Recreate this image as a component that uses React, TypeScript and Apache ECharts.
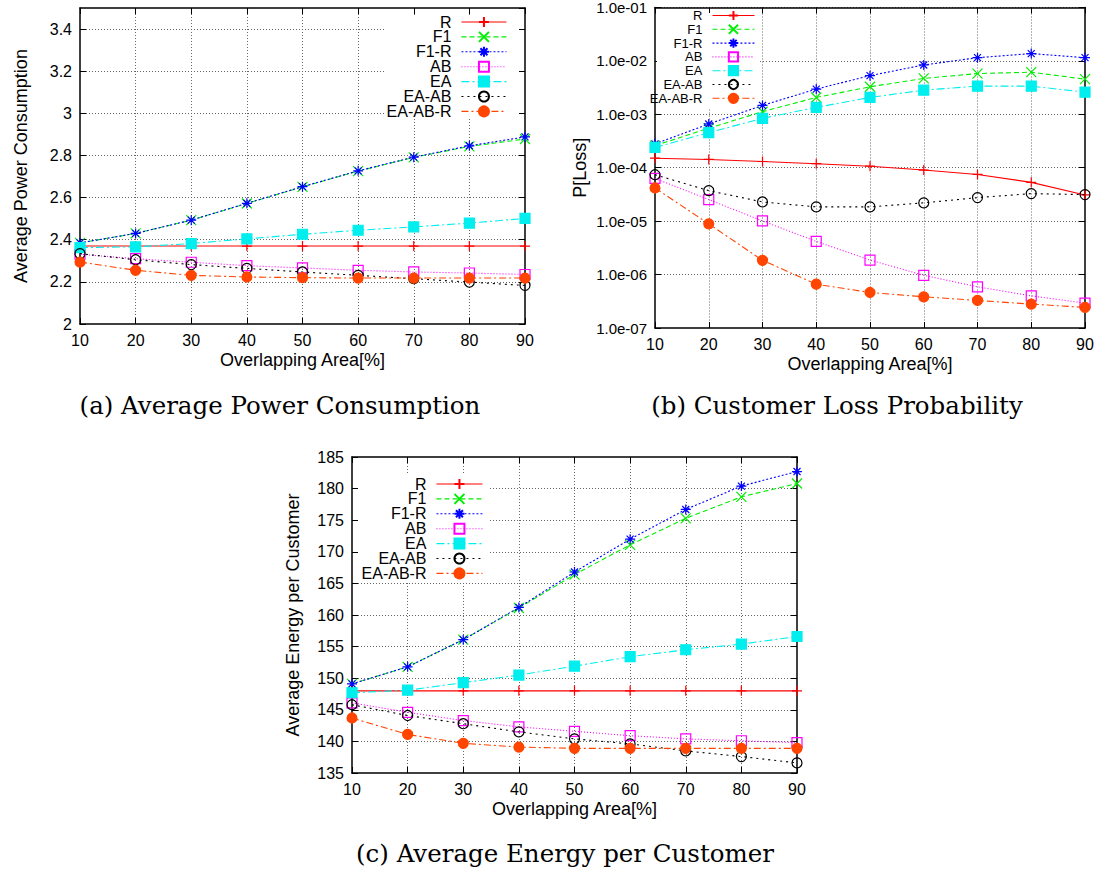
import React, { useEffect, useRef } from "react";
import * as echarts from "echarts";

// ---------- data ----------
const xValues = [10, 20, 30, 40, 50, 60, 70, 80, 90];
const seriesNames = ["R", "F1", "F1-R", "AB", "EA", "EA-AB", "EA-AB-R"];

// (a) Average Power Consumption
const powerR = [2.37, 2.37, 2.37, 2.37, 2.37, 2.37, 2.37, 2.37, 2.37];
const powerF1 = [2.385, 2.43, 2.493, 2.572, 2.651, 2.726, 2.791, 2.843, 2.878];
const powerF1R = [2.385, 2.43, 2.493, 2.573, 2.652, 2.727, 2.792, 2.846, 2.888];
const powerAB = [2.331, 2.31, 2.293, 2.277, 2.266, 2.255, 2.247, 2.242, 2.235];
const powerEA = [2.363, 2.366, 2.382, 2.404, 2.426, 2.445, 2.461, 2.479, 2.501];
const powerEAAB = [2.334, 2.305, 2.282, 2.264, 2.247, 2.231, 2.215, 2.199, 2.183];
const powerEAABR = [2.294, 2.255, 2.231, 2.223, 2.22, 2.218, 2.218, 2.218, 2.218];

// (b) Customer Loss Probability
const lossR = [1.51e-4, 1.43e-4, 1.31e-4, 1.19e-4, 1.07e-4, 9.05e-5, 7.5e-5, 5.33e-5, 3.1e-5];
const lossF1 = [2.6e-4, 5.5e-4, 1.12e-3, 2.07e-3, 3.28e-3, 4.7e-3, 5.8e-3, 6.15e-3, 4.55e-3];
const lossF1R = [2.8e-4, 6.6e-4, 1.47e-3, 2.97e-3, 5.3e-3, 8.4e-3, 1.15e-2, 1.37e-2, 1.15e-2];
const lossAB = [6.3e-5, 2.54e-5, 1.01e-5, 4.18e-6, 1.87e-6, 9.7e-7, 5.9e-7, 4.0e-7, 2.92e-7];
const lossEA = [2.4e-4, 4.55e-4, 8.4e-4, 1.35e-3, 2.07e-3, 2.84e-3, 3.37e-3, 3.37e-3, 2.6e-3];
const lossEAAB = [7.4e-5, 3.73e-5, 2.29e-5, 1.85e-5, 1.85e-5, 2.2e-5, 2.76e-5, 3.28e-5, 3.14e-5];
const lossEAABR = [4.18e-5, 8.9e-6, 1.85e-6, 6.6e-7, 4.62e-7, 3.84e-7, 3.28e-7, 2.8e-7, 2.43e-7];

// (c) Average Energy per Customer
const energyR = [148, 148, 148, 148, 148, 148, 148, 148, 148];
const energyF1 = [149.1, 151.8, 156.1, 161.1, 166.4, 171.1, 175.3, 178.7, 180.8];
const energyF1R = [149.1, 151.8, 156.1, 161.2, 166.8, 172.0, 176.7, 180.4, 182.7];
const energyAB = [146.1, 144.6, 143.3, 142.3, 141.6, 140.9, 140.4, 140.1, 139.8];
const energyEA = [147.7, 148.1, 149.3, 150.5, 151.9, 153.4, 154.5, 155.4, 156.6];
const energyEAAB = [145.8, 144.1, 142.8, 141.5, 140.4, 139.6, 138.5, 137.6, 136.6];
const energyEAABR = [143.7, 141.1, 139.7, 139.1, 138.9, 138.9, 138.9, 138.9, 138.9];

const powerData = [powerR, powerF1, powerF1R, powerAB, powerEA, powerEAAB, powerEAABR];
const lossData = [lossR, lossF1, lossF1R, lossAB, lossEA, lossEAAB, lossEAABR];
const energyData = [energyR, energyF1, energyF1R, energyAB, energyEA, energyEAAB, energyEAABR];

const xTitle = "Overlapping Area[%]";
const yTitles = ["Average Power Consumption", "P[Loss]", "Average Energy per Customer"];
const captions = [
  "(a) Average Power Consumption",
  "(b) Customer Loss Probability",
  "(c) Average Energy per Customer",
];

// ---------- styles ----------
const SANS = "Liberation Sans, Arial, Helvetica, sans-serif";
const SERIF = "DejaVu Serif, serif";
const PLUS = "path://M0,5L10,5M5,0L5,10";
const CROSS = "path://M0,0L10,10M10,0L0,10";
const STAR = "path://M0,5L10,5M5,0L5,10M1.5,1.5L8.5,8.5M8.5,1.5L1.5,8.5";

const styles = [
  { color: "#ff0000", dash: "solid", symbol: PLUS, fill: "#ff0000" },
  { color: "#00ee00", dash: [5, 3], symbol: CROSS, fill: "#00ee00" },
  { color: "#0000ff", dash: [2, 2], symbol: STAR, fill: "#0000ff" },
  { color: "#ff00ff", dash: [1, 2], symbol: "rect", fill: "rgba(0,0,0,0)" },
  { color: "#00eeee", dash: [8, 3, 2, 3], symbol: "rect", fill: "#00eeee" },
  { color: "#000000", dash: [2, 4], symbol: "circle", fill: "rgba(0,0,0,0)" },
  { color: "#ff4500", dash: [7, 3, 2, 3], symbol: "circle", fill: "#ff4500" },
];

const grids = [
  { left: 80, top: 8, width: 445, height: 316 },
  { left: 655, top: 7, width: 430, height: 321 },
  { left: 352, top: 457, width: 445, height: 316 },
];

function expLabel(v: number) {
  const e = Math.round(Math.log10(v));
  const sign = e < 0 ? "-" : "+";
  return "1.0e" + sign + String(Math.abs(e)).padStart(2, "0");
}

function makeX(gridIndex: number, top: boolean) {
  return {
    gridIndex,
    type: "value",
    position: top ? "top" : "bottom",
    min: 10,
    max: 90,
    interval: 10,
    axisLine: { show: true, onZero: false, lineStyle: { color: "#000", width: 1.5 } },
    axisTick: { show: true, inside: true, length: 6, lineStyle: { color: "#000", width: 1 } },
    axisLabel: top
      ? { show: false }
      : { show: true, color: "#000", fontSize: 16, fontFamily: SANS, margin: 8 },
    splitLine: top
      ? { show: false }
      : {
          show: true,
          showMinLine: false,
          showMaxLine: false,
          lineStyle: { type: [1, 2], color: "#666", width: 1 },
        },
    name: top ? "" : xTitle,
    nameLocation: "middle",
    nameGap: 27,
    nameTextStyle: { fontSize: 18, color: "#000", fontFamily: SANS },
  };
}

function makeY(gridIndex: number, right: boolean, cfg: any, name: string, nameGap: number) {
  return {
    gridIndex,
    position: right ? "right" : "left",
    ...cfg,
    axisLine: { show: true, onZero: false, lineStyle: { color: "#000", width: 1.5 } },
    axisTick: { show: true, inside: true, length: 6, lineStyle: { color: "#000", width: 1 } },
    axisLabel: right
      ? { show: false }
      : {
          show: true,
          color: "#000",
          fontSize: 16,
          fontFamily: SANS,
          margin: 8,
          showMaxLabel: cfg.type === "log" ? true : cfg.max === 185,
          ...(cfg.type === "log" ? { formatter: expLabel, fontSize: 15 } : {}),
        },
    splitLine: right
      ? { show: false }
      : {
          show: true,
          showMinLine: false,
          showMaxLine: false,
          lineStyle: { type: [1, 2], color: "#666", width: 1 },
        },
    name: right ? "" : name,
    nameLocation: "middle",
    nameGap,
    nameTextStyle: { fontSize: 18, color: "#000", fontFamily: SANS },
  };
}

function makeSeries(chart: number, data: number[][], symbolSize: number) {
  return seriesNames.map((name, i) => {
    const st = styles[i];
    return {
      name,
      type: "line",
      xAxisIndex: chart * 2,
      yAxisIndex: chart * 2,
      data: xValues.map((x, k) => [x, data[i][k]]),
      symbol: st.symbol,
      symbolSize,
      clip: false,
      z: 2 + i * 0.01,
      lineStyle: { color: st.color, width: 1.1, type: st.dash },
      itemStyle: { color: st.fill, borderColor: st.color, borderWidth: 1.2 },
      emphasis: { disabled: true },
    };
  });
}

function makeLegend(right: number, top: number, itemWidth: number, itemHeight: number, gap: number, fontSize: number, lh: number) {
  return {
    orient: "vertical",
    align: "right",
    right,
    top,
    padding: 0,
    itemWidth,
    itemHeight,
    itemGap: gap,
    selectedMode: false,
    data: seriesNames,
    lineStyle: { width: 1.1 },
    textStyle: { fontSize, fontFamily: SANS, color: "#000", lineHeight: lh, padding: [0, 5, 0, 0] },
  };
}

export default function App() {
  const ref = useRef<HTMLDivElement>(null);
  useEffect(() => {
    if (!ref.current) return;
    const chart = echarts.init(ref.current, undefined, { renderer: "svg" });
    const yA = { type: "value", min: 2, max: 3.5, interval: 0.2 };
    const yB = { type: "log", logBase: 10, min: 1e-7, max: 1e-1 };
    const yC = { type: "value", min: 135, max: 185, interval: 5 };
    const captionStyle = (text: string) => ({
      text,
      font: `24.5px ${SERIF}`,
      fill: "#000",
      textAlign: "center",
      textVerticalAlign: "middle",
    });
    const option: any = {
      animation: false,
      backgroundColor: "#fff",
      grid: grids.map((g) => ({ ...g, containLabel: false, show: false })),
      xAxis: [makeX(0, false), makeX(0, true), makeX(1, false), makeX(1, true), makeX(2, false), makeX(2, true)],
      yAxis: [
        makeY(0, false, yA, yTitles[0], 50),
        makeY(0, true, yA, "", 0),
        makeY(1, false, yB, yTitles[1], 66),
        makeY(1, true, yB, "", 0),
        makeY(2, false, yC, yTitles[2], 50),
        makeY(2, true, yC, "", 0),
      ],
      legend: [
        makeLegend(594, 14, 45, 12.5, -1.1, 16, 12),
        makeLegend(346, 9, 42, 11.5, 0.8, 13, 11),
        makeLegend(618, 476, 46, 12.5, -1.1, 16, 12),
      ],
      graphic: [
        { type: "rect", z: 1, shape: { x: 386, y: 15, width: 133, height: 103 }, style: { fill: "#fff" } },
        { type: "rect", z: 1, shape: { x: 657, y: 13, width: 103, height: 95 }, style: { fill: "#fff" } },
        { type: "rect", z: 1, shape: { x: 358, y: 474, width: 132, height: 109 }, style: { fill: "#fff" } },
        { type: "text", x: 280, y: 405, style: captionStyle(captions[0]) },
        { type: "text", x: 837, y: 405, style: captionStyle(captions[1]) },
        { type: "text", x: 565, y: 853, style: captionStyle(captions[2]) },
      ],
      series: [
        ...makeSeries(0, powerData, 10),
        ...makeSeries(1, lossData, 10),
        ...makeSeries(2, energyData, 10),
      ],
    };
    chart.setOption(option);
    return () => chart.dispose();
  }, []);
  return (
    <div
      ref={ref}
      style={{ position: "absolute", left: 0, top: 0, width: 1101, height: 870 }}
    />
  );
}
